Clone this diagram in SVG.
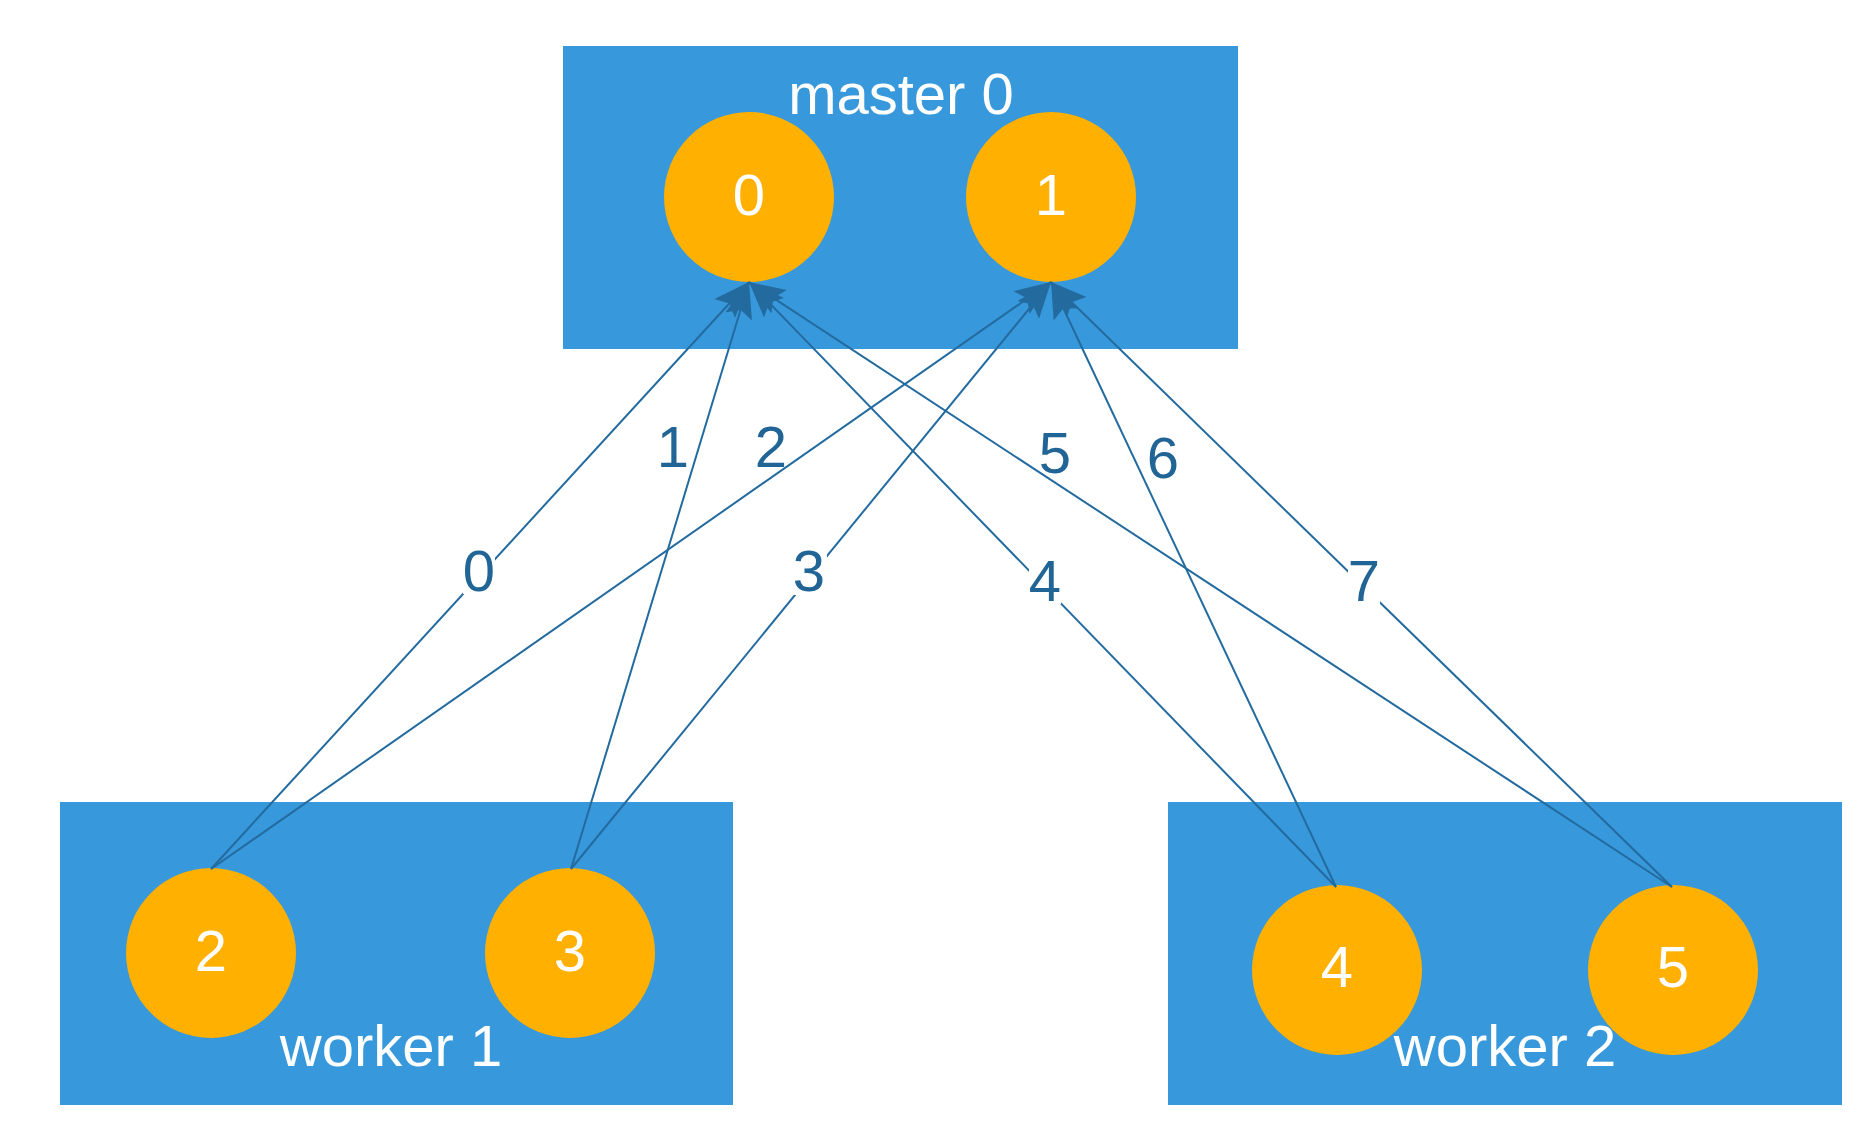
<svg xmlns="http://www.w3.org/2000/svg" width="1868" height="1132" viewBox="0 0 1868 1132">
<style>
.box{fill:#3798DB}
.node{fill:#FFB000}
.lbl{font-family:"Liberation Sans",Arial,sans-serif;font-size:58px;fill:#FFFFFF;text-anchor:middle}
.edge{stroke:#236B9F;stroke-width:2;fill:none;marker-end:url(#arr)}
.elbl{font-family:"Liberation Sans",Arial,sans-serif;font-size:58px;fill:#216597;text-anchor:middle}
.bg{fill:#FFFFFF}
</style>
<defs>
<marker id="arr" viewBox="0 0 36 30" refX="36" refY="15" markerWidth="36" markerHeight="30" markerUnits="userSpaceOnUse" orient="auto">
<path d="M0,1 L36,15 L0,29 L7,15 z" fill="#236B9F"/>
</marker>
</defs>
<rect width="1868" height="1132" fill="#FFFFFF"/>
<g id="master0">
<rect class="box" x="563" y="46" width="675" height="303"/>
<text class="lbl" x="901" y="114">master 0</text>
</g>
<g id="worker1">
<rect class="box" x="60" y="802" width="673" height="303"/>
</g>
<g id="worker2">
<rect class="box" x="1168" y="802" width="674" height="303"/>
</g>
<g id="n0"><circle class="node" cx="749" cy="197" r="85"/><text class="lbl" x="749" y="215">0</text></g>
<g id="n1"><circle class="node" cx="1051" cy="197" r="85"/><text class="lbl" x="1051" y="215">1</text></g>
<g id="n2"><circle class="node" cx="211" cy="953" r="85"/><text class="lbl" x="211" y="971">2</text></g>
<g id="n3"><circle class="node" cx="570" cy="953" r="85"/><text class="lbl" x="570" y="971">3</text></g>
<g id="n4"><circle class="node" cx="1337" cy="970" r="85"/><text class="lbl" x="1337" y="987">4</text></g>
<g id="n5"><circle class="node" cx="1673" cy="970" r="85"/><text class="lbl" x="1673" y="987">5</text></g>
<g id="worker-labels">
<text class="lbl" x="391" y="1066">worker 1</text>
<text class="lbl" x="1505" y="1066">worker 2</text>
</g>
<g id="connectors">
<line class="edge" x1="211" y1="869" x2="749" y2="282"/>
<line class="edge" x1="571" y1="869" x2="749" y2="282"/>
<line class="edge" x1="211" y1="869" x2="1051" y2="282"/>
<line class="edge" x1="571" y1="869" x2="1051" y2="282"/>
<line class="edge" x1="1336" y1="887" x2="749" y2="282"/>
<line class="edge" x1="1672" y1="887" x2="749" y2="282"/>
<line class="edge" x1="1336" y1="887" x2="1051" y2="282"/>
<line class="edge" x1="1672" y1="887" x2="1051" y2="282"/>
<rect class="bg" x="463" y="547" width="32" height="47"/>
<rect class="bg" x="793" y="547" width="34" height="48"/>
<rect class="bg" x="1029" y="556" width="32" height="48"/>
<rect class="bg" x="1348" y="556" width="32" height="48"/>
<text class="elbl" x="479" y="591">0</text>
<text class="elbl" x="673" y="467">1</text>
<text class="elbl" x="771" y="467">2</text>
<text class="elbl" x="809" y="591">3</text>
<text class="elbl" x="1045" y="601">4</text>
<text class="elbl" x="1055" y="473">5</text>
<text class="elbl" x="1163" y="478">6</text>
<text class="elbl" x="1364" y="601">7</text>
</g>
</svg>
